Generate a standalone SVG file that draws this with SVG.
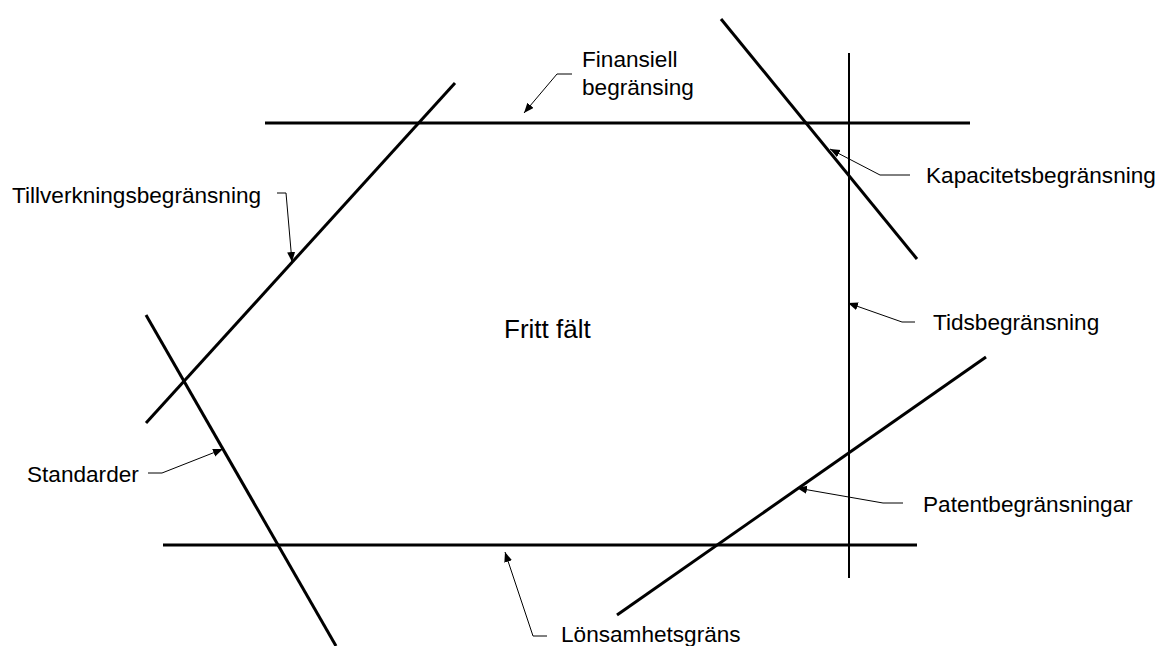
<svg xmlns="http://www.w3.org/2000/svg" width="1160" height="646" viewBox="0 0 1160 646">
<style>
.lim{stroke:#000;stroke-width:3;fill:none;stroke-linecap:butt}
.thin{stroke:#000;stroke-width:2;fill:none}
.lead{stroke:#000;stroke-width:1;fill:none;marker-end:url(#ah)}
text{font-family:"Liberation Sans",Arial,sans-serif;font-size:22.6px;fill:#000}
.big{font-size:26px}
</style>
<defs>
<marker id="ah" markerUnits="userSpaceOnUse" markerWidth="12" markerHeight="10" refX="10" refY="4" orient="auto">
<path d="M0,0 L10,4 L0,8 Z" fill="#000"/>
</marker>
</defs>
<rect width="1160" height="646" fill="#fff"/>
<g id="lines">
<line id="finansiell-line" class="lim" x1="265" y1="123" x2="970" y2="123"/>
<line id="lonsamhet-line" class="lim" x1="163" y1="545" x2="917" y2="545"/>
<line id="tids-line" class="thin" x1="849" y1="53" x2="849" y2="578"/>
<line id="tillverkning-line" class="lim" x1="455" y1="83" x2="146" y2="423"/>
<line id="standarder-line" class="lim" x1="146" y1="315" x2="336" y2="646"/>
<line id="kapacitet-line" class="lim" x1="721" y1="19" x2="917" y2="259"/>
<line id="patent-line" class="lim" x1="986" y1="357" x2="617" y2="615"/>
</g>
<g id="connectors">
<path class="lead" d="M572,74 H557 L524,113"/>
<path class="lead" d="M910,175 H880 L830,149"/>
<path class="lead" d="M277,193 H286 L292,262"/>
<path class="lead" d="M915,322 H902 L848,303"/>
<path class="lead" d="M148,473 H162 L223,449"/>
<path class="lead" d="M903,503 H883 L797,488"/>
<path class="lead" d="M547,636 H533 L505,552"/>
</g>
<g id="label-finansiell"><text x="582" y="67">Finansiell</text><text x="582" y="95">begränsing</text></g>
<g id="label-kapacitet"><text x="926" y="183">Kapacitetsbegränsning</text></g>
<g id="label-tillverkning"><text x="12" y="203">Tillverkningsbegränsning</text></g>
<g id="label-tids"><text x="933" y="330">Tidsbegränsning</text></g>
<g id="label-fritt"><text class="big" x="504" y="338">Fritt fält</text></g>
<g id="label-standarder"><text x="27" y="482">Standarder</text></g>
<g id="label-patent"><text x="923" y="512">Patentbegränsningar</text></g>
<g id="label-lonsamhet"><text x="561" y="642">Lönsamhetsgräns</text></g>
</svg>
